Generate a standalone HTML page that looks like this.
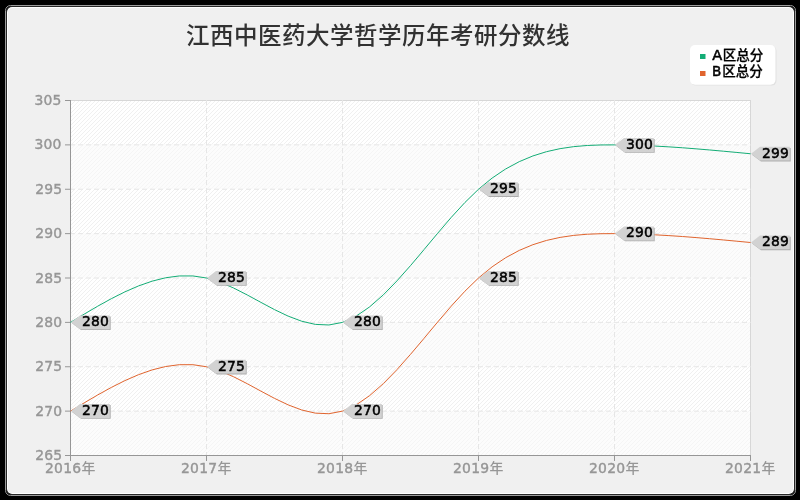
<!DOCTYPE html>
<html lang="zh-CN"><head><meta charset="utf-8"><title>江西中医药大学哲学历年考研分数线</title>
<style>html,body{margin:0;padding:0;background:#000;overflow:hidden;width:800px;height:500px}svg{display:block}text{font-family:"DejaVu Sans","Noto Sans CJK SC",sans-serif}.c{font-family:"Noto Sans CJK SC","WenQuanYi Zen Hei","DejaVu Sans",sans-serif;font-weight:500;stroke:none}.cb{font-family:"Noto Sans CJK SC","WenQuanYi Zen Hei","DejaVu Sans",sans-serif;font-weight:700;stroke:none}</style></head><body>
<svg width="800" height="500" viewBox="0 0 800 500">
<defs><pattern id="st" x="0" y="0" width="4" height="4" patternUnits="userSpaceOnUse" shape-rendering="crispEdges"><rect x="3" y="0" width="1" height="1" fill="#f0f0f0"/><rect x="2" y="1" width="1" height="1" fill="#f0f0f0"/><rect x="1" y="2" width="1" height="1" fill="#f0f0f0"/><rect x="0" y="3" width="1" height="1" fill="#f0f0f0"/></pattern></defs>
<rect width="800" height="500" fill="#000"/>
<rect x="5.5" y="5.5" width="790" height="490" rx="5" ry="5" fill="none" stroke="#9c9c9c" stroke-width="1"/>
<rect x="6.5" y="6.5" width="788" height="488" rx="4.5" ry="4.5" fill="none" stroke="#262626" stroke-width="1"/>
<rect x="7" y="7" width="787" height="487" rx="5" ry="5" fill="#fff"/>
<rect x="8" y="8" width="785" height="485" rx="4" ry="4" fill="#f0f0f0"/>
<g shape-rendering="crispEdges">
<rect x="70" y="100" width="681" height="356" fill="#fff"/>
<rect x="70" y="100" width="681" height="356" fill="url(#st)"/>
<rect x="71" y="410.62" width="679" height="44.38" fill="#fafafa" fill-opacity="0.5"/>
<rect x="71" y="321.88" width="679" height="44.38" fill="#fafafa" fill-opacity="0.5"/>
<rect x="71" y="233.12" width="679" height="44.38" fill="#fafafa" fill-opacity="0.5"/>
<rect x="71" y="144.38" width="679" height="44.38" fill="#fafafa" fill-opacity="0.5"/>
<rect x="70.5" y="100.5" width="680" height="355" fill="none" stroke="#d7d7d7"/>
</g>
<g stroke="#e6e6e6" stroke-width="1" stroke-dasharray="5 3">
<line x1="70" x2="751" y1="411.125" y2="411.125"/>
<line x1="70" x2="751" y1="366.750" y2="366.750"/>
<line x1="70" x2="751" y1="322.375" y2="322.375"/>
<line x1="70" x2="751" y1="278.000" y2="278.000"/>
<line x1="70" x2="751" y1="233.625" y2="233.625"/>
<line x1="70" x2="751" y1="189.250" y2="189.250"/>
<line x1="70" x2="751" y1="144.875" y2="144.875"/>
<line y1="100" y2="456" x1="206.5" x2="206.5"/>
<line y1="100" y2="456" x1="342.5" x2="342.5"/>
<line y1="100" y2="456" x1="478.5" x2="478.5"/>
<line y1="100" y2="456" x1="614.5" x2="614.5"/>
</g>
<g fill="#969696">
<rect x="70" y="100" width="1" height="356"/>
<rect x="70" y="455" width="681" height="1"/>
<rect x="65" y="455.000" width="5" height="1"/>
<rect x="65" y="410.625" width="5" height="1"/>
<rect x="65" y="366.250" width="5" height="1"/>
<rect x="65" y="321.875" width="5" height="1"/>
<rect x="65" y="277.500" width="5" height="1"/>
<rect x="65" y="233.125" width="5" height="1"/>
<rect x="65" y="188.750" width="5" height="1"/>
<rect x="65" y="144.375" width="5" height="1"/>
<rect x="65" y="100.000" width="5" height="1"/>
<rect x="70" y="455" width="1" height="6"/>
<rect x="206" y="455" width="1" height="6"/>
<rect x="342" y="455" width="1" height="6"/>
<rect x="478" y="455" width="1" height="6"/>
<rect x="614" y="455" width="1" height="6"/>
<rect x="750" y="455" width="1" height="6"/>
</g>
<g font-size="13.9" fill="#969696" stroke="#969696" stroke-width="0.4">
<text x="62.1" y="460.10" text-anchor="end" letter-spacing="0.1">265</text>
<text x="62.1" y="415.73" text-anchor="end" letter-spacing="0.1">270</text>
<text x="62.1" y="371.35" text-anchor="end" letter-spacing="0.1">275</text>
<text x="62.1" y="326.98" text-anchor="end" letter-spacing="0.1">280</text>
<text x="62.1" y="282.60" text-anchor="end" letter-spacing="0.1">285</text>
<text x="62.1" y="238.22" text-anchor="end" letter-spacing="0.1">290</text>
<text x="62.1" y="193.85" text-anchor="end" letter-spacing="0.1">295</text>
<text x="61.4" y="149.47" text-anchor="end" letter-spacing="0.1">300</text>
<text x="61.4" y="105.10" text-anchor="end" letter-spacing="0.1">305</text>
<text x="70.3" y="473.2" text-anchor="middle" letter-spacing="0.3">2016<tspan class="c">年</tspan></text>
<text x="206.3" y="473.2" text-anchor="middle" letter-spacing="0.3">2017<tspan class="c">年</tspan></text>
<text x="342.3" y="473.2" text-anchor="middle" letter-spacing="0.3">2018<tspan class="c">年</tspan></text>
<text x="478.3" y="473.2" text-anchor="middle" letter-spacing="0.3">2019<tspan class="c">年</tspan></text>
<text x="614.3" y="473.2" text-anchor="middle" letter-spacing="0.3">2020<tspan class="c">年</tspan></text>
<text x="750.3" y="473.2" text-anchor="middle" letter-spacing="0.3">2021<tspan class="c">年</tspan></text>
</g>
<polyline fill="none" stroke="#14ad76" stroke-width="1" points="70.50,322.38 84.10,314.18 97.70,306.21 111.30,298.70 124.90,291.87 138.50,285.95 152.10,281.17 165.70,277.76 179.30,275.94 192.90,275.95 206.50,278.00 220.10,282.19 233.70,288.06 247.30,294.99 260.90,302.37 274.50,309.61 288.10,316.10 301.70,321.23 315.30,324.38 328.90,324.97 342.50,322.38 356.10,316.20 369.70,306.83 383.30,294.88 396.90,280.94 410.50,265.62 424.10,249.52 437.70,233.23 451.30,217.35 464.90,202.49 478.50,189.25 492.10,178.09 505.70,168.95 519.30,161.64 532.90,155.94 546.50,151.68 560.10,148.65 573.70,146.65 587.30,145.48 600.90,144.96 614.50,144.88 628.10,145.07 641.70,145.48 655.30,146.08 668.90,146.86 682.50,147.78 696.10,148.83 709.70,149.97 723.30,151.19 736.90,152.46 750.50,153.75"/>
<polyline fill="none" stroke="#e0642e" stroke-width="1" points="70.50,411.12 84.10,402.93 97.70,394.96 111.30,387.45 124.90,380.62 138.50,374.70 152.10,369.92 165.70,366.51 179.30,364.69 192.90,364.70 206.50,366.75 220.10,370.94 233.70,376.81 247.30,383.74 260.90,391.12 274.50,398.36 288.10,404.85 301.70,409.98 315.30,413.13 328.90,413.72 342.50,411.12 356.10,404.95 369.70,395.58 383.30,383.63 396.90,369.69 410.50,354.37 424.10,338.27 437.70,321.98 451.30,306.10 464.90,291.24 478.50,278.00 492.10,266.84 505.70,257.70 519.30,250.39 532.90,244.69 546.50,240.43 560.10,237.40 573.70,235.40 587.30,234.23 600.90,233.71 614.50,233.62 628.10,233.82 641.70,234.23 655.30,234.83 668.90,235.61 682.50,236.53 696.10,237.58 709.70,238.72 723.30,239.94 736.90,241.21 750.50,242.50"/>
<g font-size="13.9" fill="#000" stroke="#000" stroke-width="0.5">
<path d="M72.00 323.27 L81.00 316.58 H110.70 V330.07 H81.00 Z" fill="#adadad" stroke="none"/><path d="M71.00 322.27 L80.00 315.38 H109.80 V329.17 H80.00 Z" fill="#d2d2d2" stroke="none"/><text x="82.00" y="326.18" letter-spacing="0.1">280</text>
<path d="M208.00 278.90 L217.00 272.10 H246.70 V285.80 H217.00 Z" fill="#adadad" stroke="none"/><path d="M207.00 277.90 L216.00 270.90 H245.80 V284.90 H216.00 Z" fill="#d2d2d2" stroke="none"/><text x="218.00" y="281.80" letter-spacing="0.1">285</text>
<path d="M344.00 323.27 L353.00 316.58 H382.70 V330.07 H353.00 Z" fill="#adadad" stroke="none"/><path d="M343.00 322.27 L352.00 315.38 H381.80 V329.17 H352.00 Z" fill="#d2d2d2" stroke="none"/><text x="354.00" y="326.18" letter-spacing="0.1">280</text>
<path d="M480.00 190.15 L489.00 183.45 H518.70 V196.95 H489.00 Z" fill="#adadad" stroke="none"/><path d="M479.00 189.15 L488.00 182.25 H517.80 V196.05 H488.00 Z" fill="#d2d2d2" stroke="none"/><text x="490.00" y="193.05" letter-spacing="0.1">295</text>
<path d="M616.00 145.78 L625.00 139.07 H654.70 V152.80 H625.00 Z" fill="#adadad" stroke="none"/><path d="M615.00 144.78 L624.00 137.88 H653.80 V151.90 H624.00 Z" fill="#d2d2d2" stroke="none"/><text x="626.00" y="148.68" letter-spacing="0.1">300</text>
<path d="M752.00 154.65 L761.00 147.95 H790.70 V161.45 H761.00 Z" fill="#adadad" stroke="none"/><path d="M751.00 153.65 L760.00 146.75 H789.80 V160.55 H760.00 Z" fill="#d2d2d2" stroke="none"/><text x="762.00" y="157.55" letter-spacing="0.1">299</text>
<path d="M72.00 412.02 L81.00 405.10 H110.70 V418.82 H81.00 Z" fill="#adadad" stroke="none"/><path d="M71.00 411.02 L80.00 403.90 H109.80 V417.92 H80.00 Z" fill="#d2d2d2" stroke="none"/><text x="82.00" y="414.93" letter-spacing="0.1">270</text>
<path d="M208.00 367.65 L217.00 360.95 H246.70 V374.45 H217.00 Z" fill="#adadad" stroke="none"/><path d="M207.00 366.65 L216.00 359.75 H245.80 V373.55 H216.00 Z" fill="#d2d2d2" stroke="none"/><text x="218.00" y="370.55" letter-spacing="0.1">275</text>
<path d="M344.00 412.02 L353.00 405.10 H382.70 V418.82 H353.00 Z" fill="#adadad" stroke="none"/><path d="M343.00 411.02 L352.00 403.90 H381.80 V417.92 H352.00 Z" fill="#d2d2d2" stroke="none"/><text x="354.00" y="414.93" letter-spacing="0.1">270</text>
<path d="M480.00 278.90 L489.00 272.10 H518.70 V285.80 H489.00 Z" fill="#adadad" stroke="none"/><path d="M479.00 277.90 L488.00 270.90 H517.80 V284.90 H488.00 Z" fill="#d2d2d2" stroke="none"/><text x="490.00" y="281.80" letter-spacing="0.1">285</text>
<path d="M616.00 234.53 L625.00 227.82 H654.70 V241.33 H625.00 Z" fill="#adadad" stroke="none"/><path d="M615.00 233.53 L624.00 226.62 H653.80 V240.43 H624.00 Z" fill="#d2d2d2" stroke="none"/><text x="626.00" y="237.43" letter-spacing="0.1">290</text>
<path d="M752.00 243.40 L761.00 236.70 H790.70 V250.20 H761.00 Z" fill="#adadad" stroke="none"/><path d="M751.00 242.40 L760.00 235.50 H789.80 V249.30 H760.00 Z" fill="#d2d2d2" stroke="none"/><text x="762.00" y="246.30" letter-spacing="0.1">289</text>
</g>
<rect x="691" y="46" width="85.5" height="39.6" rx="5" fill="#e1e1e1"/>
<rect x="690" y="45" width="85.5" height="39.7" rx="5" fill="#fff"/>
<rect x="700" y="54" width="5.5" height="5" fill="#14ad76"/>
<rect x="700" y="71" width="5.5" height="5" fill="#e0642e"/>
<g font-size="13.5" fill="#000" stroke="#000" stroke-width="0.5"><text transform="translate(712.2,60) scale(1.08,1)">A</text><text x="722.7" y="59.8" class="c" style="stroke:#000;stroke-width:0.25">区总分</text><text transform="translate(711.9,76.4) scale(1,1)">B</text><text x="722.3" y="76.2" class="c" style="stroke:#000;stroke-width:0.25">区总分</text></g>
<text x="377.9" y="44.4" font-size="23.5" letter-spacing="0.5" fill="#323232" text-anchor="middle" class="c">江西中医药大学哲学历年考研分数线</text>
</svg></body></html>
